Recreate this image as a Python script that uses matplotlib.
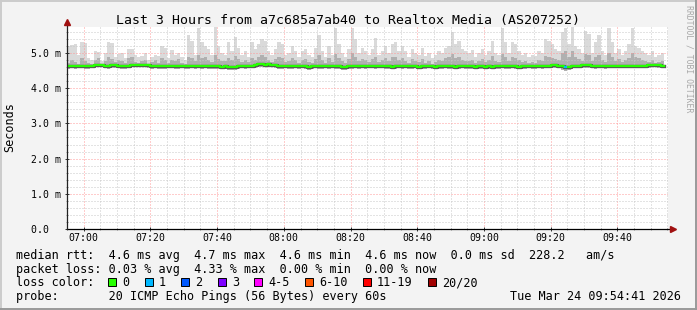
import numpy as np
import matplotlib
matplotlib.use("Agg")
import matplotlib.pyplot as plt
from matplotlib.patches import Rectangle
from matplotlib.lines import Line2D

# one value per 60s step, starting 06:55
ping_max = [
    5.20, 5.22, 5.25, 4.95, 5.30, 5.28, 4.85, 4.80, 5.05, 5.02,
    4.78, 5.00, 5.30, 5.28, 4.90, 4.98, 5.00, 4.85, 5.10, 5.12,
    4.95, 4.88, 4.92, 5.00, 4.80, 4.90, 4.95, 4.92, 5.20, 5.15,
    4.85, 5.08, 4.95, 5.00, 4.90, 4.80, 5.50, 5.35, 4.95, 5.72,
    5.30, 5.20, 5.10, 4.95, 5.75, 5.20, 5.00, 4.95, 5.30, 5.05,
    5.45, 5.15, 4.95, 5.05, 4.90, 5.30, 5.10, 5.25, 5.40, 5.35,
    5.05, 4.95, 5.10, 5.30, 5.25, 4.95, 5.00, 5.20, 5.05, 4.90,
    5.05, 5.10, 4.95, 4.90, 5.15, 5.50, 5.05, 4.90, 5.20, 4.95,
    5.72, 5.25, 5.00, 4.90, 5.10, 5.70, 5.40, 5.00, 5.15, 5.05,
    4.95, 5.10, 5.42, 4.95, 5.05, 5.20, 5.00, 5.25, 5.30, 5.05,
    5.20, 5.05, 4.90, 5.10, 5.00, 4.95, 5.15, 4.92, 5.00, 4.85,
    4.95, 5.05, 5.00, 5.15, 5.20, 5.60, 5.25, 5.35, 5.10, 5.05,
    5.00, 5.08, 4.90, 5.00, 5.10, 4.95, 5.05, 5.35, 5.00, 4.95,
    5.70, 5.30, 5.00, 5.30, 5.25, 5.05, 4.95, 5.00, 4.90, 4.95,
    4.92, 5.05, 5.00, 5.40, 5.35, 5.25, 5.10, 5.05, 5.60, 5.72,
    5.25, 5.75, 5.20, 5.10, 5.00, 5.62, 5.55, 5.00, 5.30, 5.50,
    5.05, 4.95, 5.70, 5.30, 5.00, 5.10, 4.95, 5.05, 5.25, 5.70,
    5.20, 5.15, 5.05, 5.00, 4.95, 5.05, 4.90, 4.95, 5.00, 4.90,
]
ping_upper = [
    4.72, 4.80, 4.75, 4.70, 4.85, 4.78, 4.72, 4.70, 4.80, 4.85,
    4.70, 4.78, 4.90, 4.82, 4.75, 4.80, 4.78, 4.72, 4.85, 4.88,
    4.75, 4.72, 4.78, 4.80, 4.70, 4.75, 4.80, 4.72, 4.85, 4.80,
    4.72, 4.80, 4.76, 4.82, 4.72, 4.70, 4.90, 4.85, 4.78, 4.95,
    4.85, 4.88, 4.80, 4.75, 4.95, 4.82, 4.78, 4.76, 4.85, 4.80,
    4.92, 4.82, 4.75, 4.80, 4.74, 4.85, 4.80, 4.88, 4.95, 4.90,
    4.80, 4.75, 4.82, 4.88, 4.85, 4.74, 4.78, 4.85, 4.80, 4.72,
    4.80, 4.82, 4.74, 4.72, 4.82, 4.95, 4.80, 4.72, 4.85, 4.75,
    4.98, 4.85, 4.78, 4.72, 4.82, 5.00, 4.90, 4.78, 4.82, 4.80,
    4.75, 4.82, 4.90, 4.74, 4.80, 4.85, 4.78, 4.88, 4.90, 4.80,
    4.85, 4.78, 4.72, 4.82, 4.76, 4.74, 4.82, 4.72, 4.78, 4.70,
    4.74, 4.80, 4.76, 4.85, 4.88, 4.98, 4.85, 4.90, 4.80, 4.78,
    4.76, 4.80, 4.72, 4.78, 4.82, 4.74, 4.80, 4.92, 4.76, 4.74,
    4.98, 4.88, 4.78, 4.90, 4.86, 4.80, 4.74, 4.78, 4.72, 4.75,
    4.72, 4.80, 4.78, 4.92, 4.90, 4.86, 4.82, 4.80, 5.00, 5.05,
    4.90, 5.05, 4.88, 4.82, 4.78, 4.98, 4.95, 4.78, 4.88, 4.95,
    4.80, 4.74, 5.00, 4.90, 4.78, 4.82, 4.74, 4.80, 4.86, 5.00,
    4.88, 4.85, 4.80, 4.76, 4.74, 4.80, 4.72, 4.74, 4.78, 4.72,
]
ping_median = [
    4.63, 4.63, 4.62, 4.63, 4.64, 4.63, 4.62, 4.64, 4.66, 4.67,
    4.67, 4.64, 4.63, 4.66, 4.65, 4.63, 4.62, 4.63, 4.64, 4.66,
    4.67, 4.67, 4.66, 4.67, 4.65, 4.63, 4.63, 4.62, 4.63, 4.62,
    4.63, 4.64, 4.63, 4.62, 4.63, 4.62, 4.63, 4.64, 4.63, 4.63,
    4.62, 4.64, 4.63, 4.62, 4.63, 4.62, 4.61, 4.62, 4.60, 4.59,
    4.60, 4.62, 4.63, 4.62, 4.63, 4.64, 4.66, 4.68, 4.68, 4.67,
    4.68, 4.67, 4.66, 4.63, 4.62, 4.63, 4.62, 4.63, 4.64, 4.62,
    4.63, 4.62, 4.61, 4.62, 4.63, 4.62, 4.62, 4.63, 4.62, 4.64,
    4.63, 4.62, 4.61, 4.60, 4.62, 4.63, 4.64, 4.62, 4.63, 4.62,
    4.64, 4.63, 4.62, 4.64, 4.63, 4.62, 4.62, 4.61, 4.62, 4.63,
    4.62, 4.63, 4.62, 4.62, 4.63, 4.61, 4.62, 4.62, 4.63, 4.62,
    4.61, 4.62, 4.62, 4.63, 4.62, 4.62, 4.61, 4.62, 4.63, 4.62,
    4.62, 4.62, 4.61, 4.62, 4.62, 4.61, 4.62, 4.61, 4.62, 4.62,
    4.63, 4.62, 4.62, 4.63, 4.62, 4.61, 4.62, 4.62, 4.63, 4.62,
    4.62, 4.63, 4.62, 4.63, 4.64, 4.66, 4.66, 4.64, 4.62, 4.61,
    4.61, 4.63, 4.64, 4.63, 4.65, 4.65, 4.65, 4.63, 4.62, 4.63,
    4.64, 4.62, 4.63, 4.63, 4.64, 4.63, 4.63, 4.64, 4.63, 4.64,
    4.63, 4.63, 4.63, 4.64, 4.65, 4.66, 4.66, 4.65, 4.64, 4.62,
]
ping_min = [
    4.55, 4.56, 4.54, 4.56, 4.57, 4.55, 4.55, 4.57, 4.59, 4.60,
    4.60, 4.57, 4.55, 4.58, 4.58, 4.56, 4.54, 4.55, 4.56, 4.59,
    4.60, 4.61, 4.59, 4.60, 4.58, 4.55, 4.56, 4.55, 4.54, 4.55,
    4.56, 4.57, 4.55, 4.54, 4.56, 4.55, 4.55, 4.56, 4.55, 4.56,
    4.55, 4.57, 4.55, 4.54, 4.55, 4.55, 4.54, 4.55, 4.53, 4.52,
    4.53, 4.55, 4.56, 4.55, 4.56, 4.56, 4.58, 4.60, 4.61, 4.60,
    4.61, 4.60, 4.58, 4.55, 4.54, 4.56, 4.55, 4.55, 4.57, 4.55,
    4.56, 4.54, 4.53, 4.55, 4.56, 4.55, 4.54, 4.56, 4.55, 4.57,
    4.55, 4.54, 4.53, 4.53, 4.55, 4.55, 4.57, 4.55, 4.56, 4.55,
    4.57, 4.56, 4.54, 4.57, 4.56, 4.55, 4.55, 4.54, 4.55, 4.56,
    4.55, 4.56, 4.55, 4.55, 4.56, 4.54, 4.55, 4.55, 4.56, 4.55,
    4.54, 4.55, 4.55, 4.56, 4.55, 4.54, 4.54, 4.55, 4.56, 4.55,
    4.55, 4.55, 4.54, 4.55, 4.55, 4.54, 4.55, 4.54, 4.55, 4.55,
    4.56, 4.55, 4.55, 4.56, 4.55, 4.54, 4.55, 4.55, 4.56, 4.55,
    4.55, 4.56, 4.55, 4.56, 4.57, 4.58, 4.58, 4.57, 4.52, 4.50,
    4.52, 4.56, 4.57, 4.56, 4.58, 4.58, 4.57, 4.56, 4.55, 4.56,
    4.57, 4.55, 4.56, 4.56, 4.57, 4.56, 4.56, 4.57, 4.56, 4.57,
    4.56, 4.56, 4.56, 4.57, 4.58, 4.59, 4.59, 4.58, 4.57, 4.55,
]
# lost pings per step (step index -> count), everything else 0
lost_pings = {149: 1}

xtick_labels = ["07:00", "07:20", "07:40", "08:00", "08:20", "08:40", "09:00", "09:20", "09:40"]
ytick_labels = ["0.0  ", "1.0 m", "2.0 m", "3.0 m", "4.0 m", "5.0 m"]

loss_names = ["0", "1", "2", "3", "4-5", "6-10", "11-19", "20/20"]
loss_colors = ["#26ff00", "#00b8ff", "#0059ff", "#7e00ff", "#ff00ff", "#ff5500", "#ff0000", "#a10000"]

title = "Last 3 Hours from a7c685a7ab40 to Realtox Media (AS207252)"
rtt_line = "median rtt:  4.6 ms avg  4.7 ms max  4.6 ms min  4.6 ms now  0.0 ms sd  228.2   am/s"
loss_line = "packet loss: 0.03 % avg  4.33 % max  0.00 % min  0.00 % now"
probe_line = "probe:       20 ICMP Echo Pings (56 Bytes) every 60s"
stamp = "Tue Mar 24 09:54:41 2026"

W, H = 697, 310
MONO = "DejaVu Sans Mono"
plt.rcParams['font.family'] = [MONO]


def fx(px):
    return px / W


def fy(py):
    return 1 - py / H


fig = plt.figure(figsize=(W / 100, H / 100), dpi=100, facecolor="#f3f3f3")

# frame round the picture
fig.add_artist(Line2D([0, 1], [fy(0.5), fy(0.5)], color="#cbcbcb", lw=1.4))
fig.add_artist(Line2D([fx(0.5), fx(0.5)], [0, 1], color="#cbcbcb", lw=1.4))
fig.add_artist(Line2D([0, 1], [fy(H - 1), fy(H - 1)], color="#999999", lw=1.4))
fig.add_artist(Line2D([fx(W - 1), fx(W - 1)], [0, 1], color="#999999", lw=1.4))

ax = fig.add_axes([fx(67), fy(229), 601 / W, 202 / H])
ax.set_facecolor("white")

t = np.arange(len(ping_median))
hi = np.array(ping_max)
up = np.array(ping_upper)
med = np.array(ping_median)
lo = np.array(ping_min)

ax.fill_between(t, lo, hi, step="post", color="#dadada", lw=0, zorder=1)
ax.fill_between(t, lo, up, step="post", color="#b0b0b0", lw=0, zorder=1.1)
ax.step(t, med, where="post", color="#555555", lw=2.4, zorder=3)
ax.step(t, med, where="post", color=loss_colors[0], lw=1.6, zorder=3.1)
for i, n in lost_pings.items():
    ax.hlines(med[i], t[i], t[i] + 1, color=loss_colors[n], lw=1.6, zorder=3.2)

px_per_ms = 35.2
ax.set_ylim(0, 202 / px_per_ms)
ax.set_xlim(0, 601 / 3.336)

major_x = [5 + 20 * k for k in range(len(xtick_labels))]
minor_x = [m for m in range(0, 181, 5) if m not in major_x]
major_y = list(range(len(ytick_labels)))
minor_y = [round(v * 0.2, 1) for v in range(1, 29) if v % 5 != 0]

ax.set_xticks(major_x, labels=xtick_labels)
ax.set_xticks(minor_x, minor=True)
ax.set_yticks(major_y, labels=ytick_labels)
ax.set_yticks(minor_y, minor=True)

ax.grid(which="major", color="#ff9a9a", ls=(0, (1, 2)), lw=0.72)
ax.grid(which="minor", color="#c8c8c8", ls=(0, (1, 2)), lw=0.72)
ax.set_axisbelow(False)

ax.tick_params(which="major", direction="inout", length=3, width=0.7, color="#333333",
               labelsize=7.1, pad=3)
ax.tick_params(axis="x", which="major", pad=1.5)
ax.tick_params(which="minor", direction="inout", length=1.6, width=0.6, color="#888888")
for s in ax.spines.values():
    s.set_visible(False)

# axes with arrow heads
ax.plot([0, 1.006], [0, 0], transform=ax.transAxes, color="black", lw=0.9, clip_on=False, zorder=6)
ax.plot([0, 0], [0, 1.02], transform=ax.transAxes, color="#222222", lw=0.9, clip_on=False, zorder=6)
ax.plot([1.0085], [0], transform=ax.transAxes, marker=">", ms=4.2, color="#a01010", clip_on=False, zorder=7)
ax.plot([0], [1.025], transform=ax.transAxes, marker="^", ms=4.2, color="#a01010", clip_on=False, zorder=7)

fig.text(fx(348), fy(24), title, ha="center", va="baseline", fontsize=9.5, family=MONO)
fig.text(fx(10), fy(127), "Seconds", rotation=90, ha="center", va="center", fontsize=8.5, family=MONO)
fig.text(fx(688.5), fy(5), "RRDTOOL / TOBI OETIKER", rotation=270, ha="center", va="top",
         fontsize=5.9, color="#a8a8a8", family=MONO)

# legend block
fig.text(fx(16), fy(259), rtt_line, ha="left", va="baseline", fontsize=8.5, family=MONO)
fig.text(fx(16), fy(273), loss_line, ha="left", va="baseline", fontsize=8.5, family=MONO)
fig.text(fx(16), fy(286.5), "loss color:", ha="left", va="baseline", fontsize=8.5, family=MONO)
fig.text(fx(16), fy(300), probe_line, ha="left", va="baseline", fontsize=8.5, family=MONO)
fig.text(fx(681), fy(300), stamp, ha="right", va="baseline", fontsize=8.5, family=MONO)

cw = 7.1
xpos = 108
for name, col in zip(loss_names, loss_colors):
    fig.add_artist(Rectangle((fx(xpos), fy(286)), 8 / W, 8 / H, facecolor=col,
                             edgecolor="black", lw=0.7, transform=fig.transFigure))
    fig.text(fx(xpos + 14), fy(286.5), name, ha="left", va="baseline", fontsize=8.5, family=MONO)
    xpos += 14 + len(name) * cw + 15.5

fig.savefig("out.png", dpi=100, facecolor=fig.get_facecolor())
